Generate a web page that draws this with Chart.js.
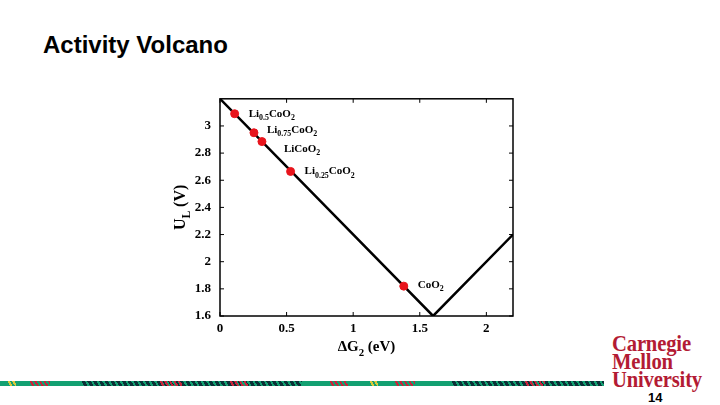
<!DOCTYPE html>
<html>
<head>
<meta charset="utf-8">
<script src="https://cdn.jsdelivr.net/npm/chart.js@4"></script>
<style>
  body { margin: 0; width: 720px; height: 405px; background: #fff; position: relative; overflow: hidden; font-family: "Liberation Sans", Arial, sans-serif; }
  #title { position: absolute; left: 43px; top: 31px; font-size: 24px; font-weight: bold; color: #000; }
  #wrap { position: absolute; left: 160px; top: 90px; width: 360px; height: 280px; }
  #stripe { position: absolute; left: 0; top: 381px; width: 604px; height: 5px;
    background:
      repeating-linear-gradient(60deg, transparent 0 2px, rgba(10,30,45,0.85) 2px 5px) 82px 0 / 220px 5px no-repeat,
      repeating-linear-gradient(60deg, transparent 0 2px, rgba(10,30,45,0.85) 2px 5px) 452px 0 / 152px 5px no-repeat,
      #13a071; }
  .red { position: absolute; top: 381px; height: 5px; background: repeating-linear-gradient(60deg, transparent 0 2px, #c8243c 2px 4px); }
  .yel { position: absolute; top: 381px; height: 5px; background: repeating-linear-gradient(60deg, transparent 0 2px, #d9c83a 2px 4px); }
  #cmu { position: absolute; left: 612px; top: 334px; color: #b31b34; font-family: "Liberation Serif", serif; font-weight: bold; font-size: 24px; line-height: 18px; transform: scaleX(0.86); transform-origin: left top; letter-spacing: -0.2px; }
  #page { position: absolute; left: 648px; top: 390px; font-size: 13px; font-weight: bold; color: #000; }
</style>
</head>
<body>
<div id="title">Activity Volcano</div>
<div id="wrap"><canvas id="volcano"></canvas></div>
<div id="stripe"></div>
<div class="red" style="left:30px;width:20px"></div>
<div class="red" style="left:160px;width:22px"></div>
<div class="red" style="left:230px;width:18px"></div>
<div class="red" style="left:330px;width:18px"></div>
<div class="red" style="left:395px;width:20px"></div>
<div class="red" style="left:525px;width:20px"></div>
<div class="yel" style="left:8px;width:8px"></div>
<div class="yel" style="left:370px;width:8px"></div>
<div id="cmu">Carnegie<br>Mellon<br>University</div>
<div id="page">14</div>
<script>
// volcano line (ΔG2 vs U_L)
const lineX = [0, 1.6, 2.2];
const lineY = [3.2, 1.6, 2.2];

// materials
const matNames = ['Li_{0.5}CoO_{2}', 'Li_{0.75}CoO_{2}', 'LiCoO_{2}', 'Li_{0.25}CoO_{2}', 'CoO_{2}'];
const matX = [0.11, 0.255, 0.315, 0.53, 1.38];
const matY = [3.09, 2.95, 2.885, 2.665, 1.82];

const xTicks = [0, 0.5, 1, 1.5, 2];
const yTicks = [1.6, 1.8, 2, 2.2, 2.4, 2.6, 2.8, 3];

// label offsets in px from the point
const labelOff = [[14, 3], [13, 0], [22, 10], [14, 3], [14, 2]];

const serif = '"Liberation Serif", "Times New Roman", serif';

// draws "Li_{0.5}CoO_{2}" style text with subscripts
function drawRich(ctx, str, x, y, size, bold) {
  const parts = str.split(/(_\{[^}]*\})/).filter(p => p);
  let cx = x;
  parts.forEach(p => {
    let sub = p.startsWith('_{');
    let t = sub ? p.slice(2, -1) : p;
    let fs = sub ? size * 0.72 : size;
    ctx.font = (bold ? 'bold ' : '') + fs + 'px ' + serif;
    ctx.fillText(t, cx, sub ? y + size * 0.3 : y);
    cx += ctx.measureText(t).width;
  });
  return cx - x;
}

function richWidth(ctx, str, size, bold) {
  const parts = str.split(/(_\{[^}]*\})/).filter(p => p);
  let w = 0;
  parts.forEach(p => {
    let sub = p.startsWith('_{');
    let t = sub ? p.slice(2, -1) : p;
    ctx.font = (bold ? 'bold ' : '') + (sub ? size * 0.72 : size) + 'px ' + serif;
    w += ctx.measureText(t).width;
  });
  return w;
}

const framePlugin = {
  id: 'frame',
  afterDatasetsDraw(chart) {
    const { ctx, chartArea: a, scales } = chart;
    ctx.save();
    ctx.strokeStyle = '#000';
    ctx.lineWidth = 1.5;
    ctx.strokeRect(a.left, a.top, a.right - a.left, a.bottom - a.top);
    ctx.lineWidth = 1;
    ctx.beginPath();
    xTicks.forEach(v => {
      const px = scales.x.getPixelForValue(v);
      ctx.moveTo(px, a.bottom); ctx.lineTo(px, a.bottom - 4);
      ctx.moveTo(px, a.top); ctx.lineTo(px, a.top + 4);
    });
    yTicks.forEach(v => {
      const py = scales.y.getPixelForValue(v);
      ctx.moveTo(a.left, py); ctx.lineTo(a.left + 4, py);
      ctx.moveTo(a.right, py); ctx.lineTo(a.right - 4, py);
    });
    ctx.stroke();

    // point labels
    ctx.fillStyle = '#000';
    ctx.textBaseline = 'alphabetic';
    ctx.textAlign = 'left';
    matNames.forEach((n, i) => {
      const px = scales.x.getPixelForValue(matX[i]) + labelOff[i][0];
      const py = scales.y.getPixelForValue(matY[i]) + labelOff[i][1];
      drawRich(ctx, n, px, py, 11, true);
    });

    // axis titles
    const xt = 'ΔG_{2} (eV)';
    const w = richWidth(ctx, xt, 15, true);
    drawRich(ctx, xt, (a.left + a.right) / 2 - w / 2, a.bottom + 35, 15, true);
    ctx.translate(a.left - 35, (a.top + a.bottom) / 2);
    ctx.rotate(-Math.PI / 2);
    const yt = 'U_{L} (V)';
    const wy = richWidth(ctx, yt, 16, true);
    drawRich(ctx, yt, -wy / 2, 0, 16, true);
    ctx.restore();
  }
};

new Chart(document.getElementById('volcano'), {
  type: 'scatter',
  data: {
    datasets: [
      {
        label: 'materials',
        data: matX.map((x, i) => ({ x: x, y: matY[i] })),
        backgroundColor: '#e8141c',
        borderColor: '#e8141c',
        pointRadius: 4,
        order: 0
      },
      {
        label: 'volcano',
        type: 'line',
        data: lineX.map((x, i) => ({ x: x, y: lineY[i] })),
        borderColor: '#000',
        borderWidth: 2.5,
        pointRadius: 0,
        tension: 0,
        order: 1
      }
    ]
  },
  options: {
    responsive: true,
    maintainAspectRatio: false,
    animation: false,
    layout: { padding: { left: 10, right: 7, top: 7, bottom: 0 } },
    plugins: { legend: { display: false }, tooltip: { enabled: false } },
    scales: {
      x: {
        type: 'linear',
        min: 0,
        max: 2.2,
        afterFit: s => { s.height = 54; },
        afterBuildTicks: s => { s.ticks = xTicks.map(v => ({ value: v })); },
        grid: { display: false },
        border: { display: false },
        ticks: { color: '#000', padding: -3, callback: v => String(v), font: { family: serif, size: 13, weight: 'bold' }, maxRotation: 0 }
      },
      y: {
        min: 1.6,
        max: 3.2,
        afterFit: s => { s.width = 50; },
        afterBuildTicks: s => { s.ticks = yTicks.map(v => ({ value: v })); },
        grid: { display: false },
        border: { display: false },
        ticks: { color: '#000', padding: 1, callback: v => String(v), font: { family: serif, size: 13, weight: 'bold' } }
      }
    }
  },
  plugins: [framePlugin]
});
</script>
</body>
</html>
